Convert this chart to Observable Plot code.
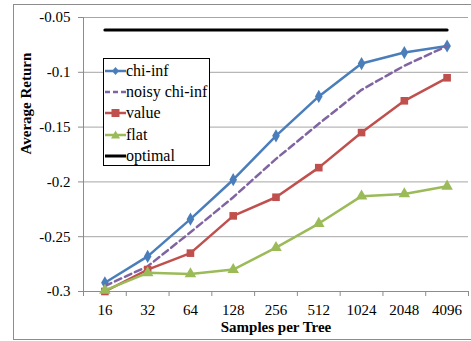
<!DOCTYPE html>
<html>
<head>
<meta charset="utf-8">
<script src="https://cdn.jsdelivr.net/npm/d3@7"></script>
<script src="https://cdn.jsdelivr.net/npm/@observablehq/plot@0.6"></script>
<style>
  html, body { margin: 0; padding: 0; background: #fff; }
  #wrap { position: relative; width: 471px; height: 341px; overflow: hidden; font-family: "Liberation Serif", serif; }
  #border { position: absolute; left: 13px; top: 4px; width: 470px; height: 334px; border: 1px solid #8c8c8c; pointer-events: none; }
  #legend { position: absolute; left: 103px; top: 58px; width: 107px; height: 108px; border: 1px solid #000; background: #fff; box-sizing: border-box; padding-top: 1px; }
  .row { display: flex; align-items: center; height: 21.4px; font-size: 16px; color: #000; }
  .row svg { width: 21px; height: 14px; margin-left: 1px; flex: none; }
  .row span { margin-left: 0px; white-space: nowrap; }
</style>
</head>
<body>
<div id="wrap"><div id="chart"></div><div id="legend"></div><div id="border"></div></div>
<script>
const categories = ["16", "32", "64", "128", "256", "512", "1024", "2048", "4096"];
const chiInf      = [-0.292, -0.268, -0.234, -0.198, -0.158, -0.122, -0.092, -0.082, -0.076];
const noisyChiInf = [-0.295, -0.277, -0.246, -0.214, -0.179, -0.147, -0.116, -0.094, -0.076];
const valueSeries = [-0.300, -0.280, -0.265, -0.231, -0.214, -0.187, -0.155, -0.126, -0.105];
const flat        = [-0.299, -0.283, -0.284, -0.280, -0.260, -0.238, -0.213, -0.211, -0.204];
const optimal     = [-0.0615, -0.0615, -0.0615, -0.0615, -0.0615, -0.0615, -0.0615, -0.0615, -0.0615];
const yTicks = [-0.3, -0.25, -0.2, -0.15, -0.1, -0.05];
const seriesNames = ["chi-inf", "noisy chi-inf", "value", "flat", "optimal"];
const colors = {"chi-inf": "#4a7ebb", "noisy chi-inf": "#8064a2", "value": "#c0504d", "flat": "#9bbb59", "optimal": "#000000"};

const idx = categories.map((_, i) => i);
const boundaries = d3.range(-0.5, categories.length, 1);
const mk = (vals) => vals.map((v, i) => ({i, v}));
const dChi = mk(chiInf), dNoisy = mk(noisyChiInf), dVal = mk(valueSeries), dFlat = mk(flat), dOpt = mk(optimal);
const fmt = d => String(+d.toFixed(2));

const plot = Plot.plot({
  width: 471, height: 341,
  marginLeft: 83, marginRight: 3, marginTop: 17, marginBottom: 50,
  style: {fontFamily: "Liberation Serif, serif", fontSize: "15px", background: "transparent", color: "#000"},
  x: {type: "linear", domain: [-0.5, categories.length - 0.5]},
  y: {domain: [-0.3, -0.05]},
  marks: [
    Plot.gridY(yTicks, {stroke: "#a6a6a6", strokeOpacity: 1, strokeWidth: 1}),
    Plot.ruleX([-0.5], {stroke: "#8c8c8c", strokeWidth: 1}),
    Plot.ruleY([-0.3], {stroke: "#8c8c8c", strokeWidth: 1}),
    Plot.axisY({ticks: yTicks, tickSize: 5, tickPadding: 8, tickFormat: fmt, stroke: "#8c8c8c", fontSize: 15, label: null}),
    Plot.axisX({ticks: boundaries, tickSize: 5, tickFormat: () => "", stroke: "#8c8c8c", label: null}),
    Plot.axisX({ticks: idx, tickSize: 0, tickPadding: 13, tickFormat: i => categories[i], fontSize: 15, label: null}),
    Plot.text(["Samples per Tree"], {frameAnchor: "bottom", dy: 40, fontWeight: "bold", fontSize: 15}),
    Plot.text(["Average Return"], {frameAnchor: "left", dx: -57, rotate: -90, fontWeight: "bold", fontSize: 15}),
    Plot.line(dChi, {x: "i", y: "v", stroke: colors["chi-inf"], strokeWidth: 2.5}),
    Plot.dot(dChi, {x: "i", y: "v", symbol: "diamond", r: 4, fill: colors["chi-inf"]}),
    Plot.line(dNoisy, {x: "i", y: "v", stroke: colors["noisy chi-inf"], strokeWidth: 2.5, strokeDasharray: "7,4"}),
    Plot.line(dVal, {x: "i", y: "v", stroke: colors["value"], strokeWidth: 2.5}),
    Plot.dot(dVal, {x: "i", y: "v", symbol: "square", r: 4.3, fill: colors["value"]}),
    Plot.line(dFlat, {x: "i", y: "v", stroke: colors["flat"], strokeWidth: 2.5}),
    Plot.dot(dFlat, {x: "i", y: "v", symbol: "triangle", r: 4.3, fill: colors["flat"]}),
    Plot.line(dOpt, {x: "i", y: "v", stroke: colors["optimal"], strokeWidth: 3})
  ]
});
document.getElementById("chart").appendChild(plot);

const markerSvg = {
  "chi-inf": '<path d="M10.5,3 L14,7 L10.5,11 L7,7 Z" fill="#4a7ebb"/>',
  "noisy chi-inf": '',
  "value": '<rect x="6.5" y="3" width="8" height="8" fill="#c0504d"/>',
  "flat": '<path d="M10.5,2.5 L15,10.5 L6,10.5 Z" fill="#9bbb59"/>',
  "optimal": ''
};
const legend = document.getElementById("legend");
seriesNames.forEach(name => {
  const dash = name === "noisy chi-inf" ? ' stroke-dasharray="5,3"' : '';
  const sw = name === "optimal" ? 3 : 2.5;
  const row = document.createElement("div");
  row.className = "row";
  row.innerHTML = `<svg viewBox="0 0 21 14"><line x1="0" x2="21" y1="7" y2="7" stroke="${colors[name]}" stroke-width="${sw}"${dash}/>${markerSvg[name]}</svg><span>${name}</span>`;
  legend.appendChild(row);
});
</script>
</body>
</html>
